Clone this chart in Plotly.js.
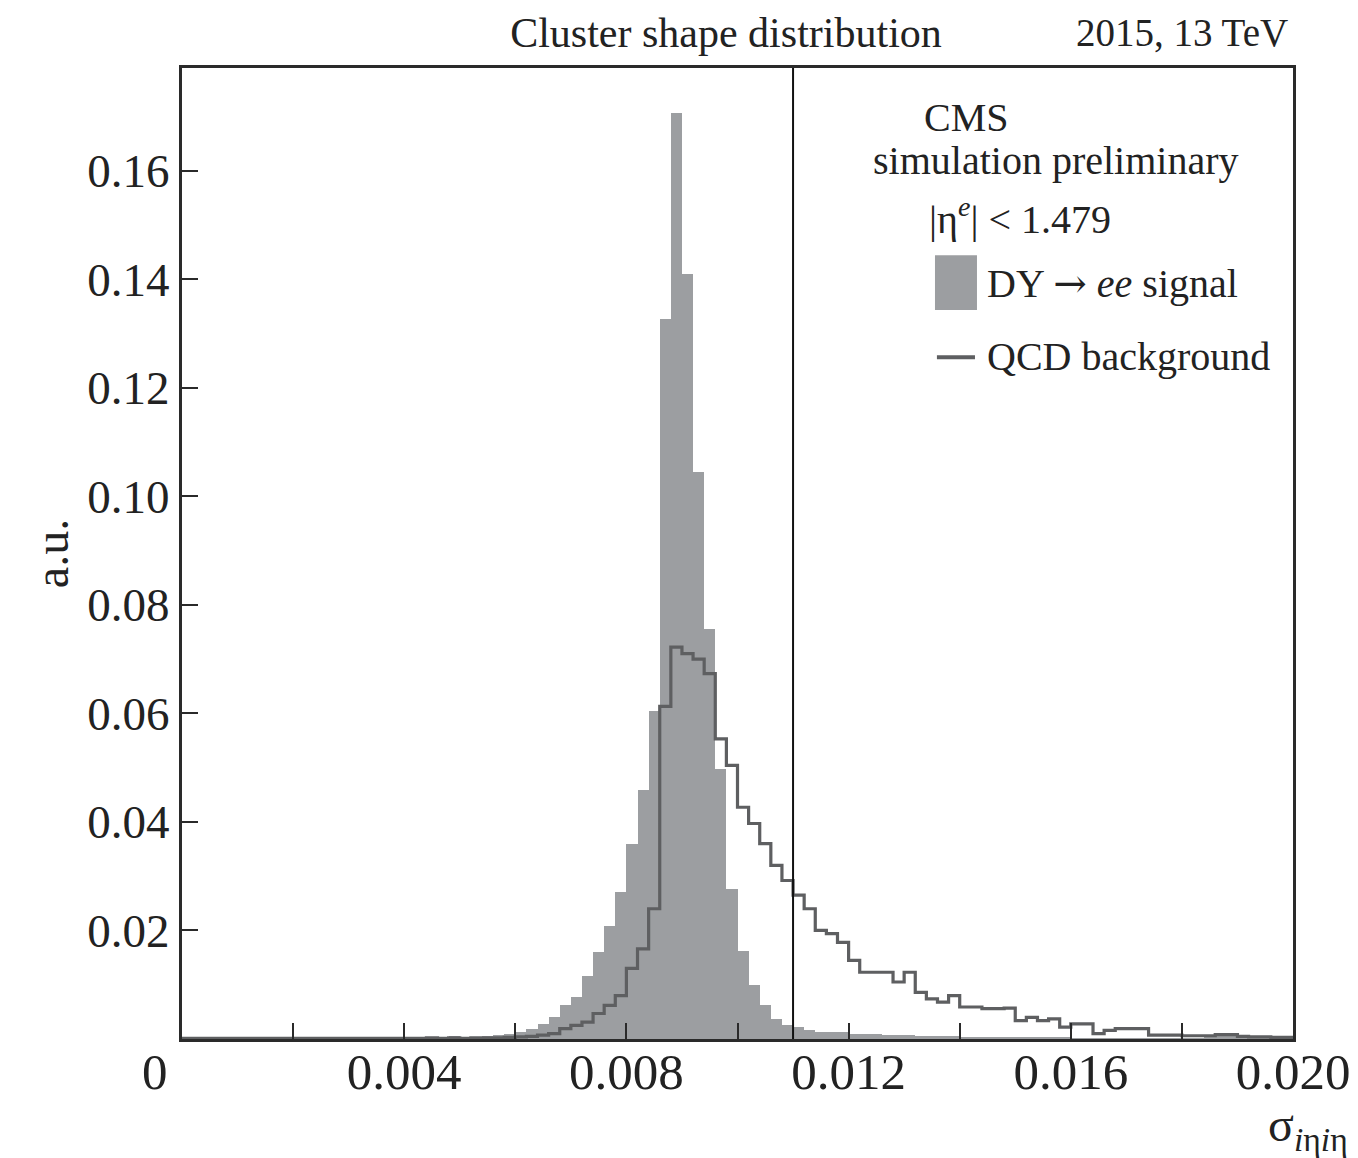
<!DOCTYPE html>
<html>
<head>
<meta charset="utf-8">
<script src="https://cdn.plot.ly/plotly-3.0.1.min.js"></script>
<style>
  html, body { margin: 0; padding: 0; background: #fff; }
  #chart { width: 1358px; height: 1158px; }
</style>
</head>
<body>
<div id="chart"></div>
<script>
// ---- Data ----
const binStart = 0.0;
const binWidth = 0.0002;

// DY -> ee signal, per bin (0 .. 0.020, 100 bins)
const signalValues = [
  0.0002,0.0001,0.0001,0.0001,0.0001,0.0001,0.0002,0.0001,0.0001,0.0001,
  0.0001,0.0001,0.0001,0.0001,0.0001,0.0001,0.0002,0.0001,0.0001,0.0001,
  0.0002,0.0002,0.0003,0.0003,0.0006,0.0003,0.0004,0.0005,0.0007,0.0009,
  0.0013,0.0019,0.0028,0.0040,0.0062,0.0078,0.0117,0.0160,0.0209,0.0271,
  0.0360,0.0459,0.0605,0.1327,0.1707,0.1410,0.1044,0.0756,0.0498,0.0277,
  0.0163,0.0099,0.0062,0.0037,0.0025,0.0022,0.0016,0.0013,0.0012,0.0012,
  0.0010,0.0010,0.0009,0.0008,0.0008,0.0007,0.0006,0.0006,0.0005,0.0005,
  0.0004,0.0004,0.0004,0.0004,0.0003,0.0003,0.0003,0.0003,0.0003,0.0003,
  0.0002,0.0002,0.0002,0.0002,0.0002,0.0002,0.0002,0.0002,0.0002,0.0002,
  0.0002,0.0002,0.0003,0.0005,0.0005,0.0003,0.0002,0.0002,0.0001,0.0001
];

// QCD background, per bin
const qcdValues = [
  0.0001,0.0001,0.0001,0.0001,0.0001,0.0001,0.0001,0.0001,0.0001,0.0001,
  0.0001,0.0001,0.0001,0.0001,0.0001,0.0001,0.0001,0.0001,0.0001,0.0001,
  0.0001,0.0001,0.0002,0.0001,0.0002,0.0001,0.0002,0.0002,0.0002,0.0003,
  0.0004,0.0005,0.0007,0.0010,0.0019,0.0025,0.0031,0.0047,0.0062,0.0080,
  0.0130,0.0166,0.0240,0.0613,0.0722,0.0710,0.0700,0.0673,0.0553,0.0504,
  0.0427,0.0397,0.0360,0.0320,0.0292,0.0265,0.0240,0.0200,0.0194,0.0178,
  0.0145,0.0123,0.0123,0.0123,0.0105,0.0123,0.0086,0.0074,0.0068,0.0080,
  0.0059,0.0059,0.0056,0.0056,0.0057,0.0034,0.0040,0.0034,0.0037,0.0022,
  0.0028,0.0028,0.0010,0.0016,0.0019,0.0019,0.0019,0.0007,0.0007,0.0007,
  0.0006,0.0006,0.0006,0.0008,0.0008,0.0005,0.0004,0.0004,0.0003,0.0003
];

const cutValue = 0.011;

const xTickVals = [0, 0.002, 0.004, 0.006, 0.008, 0.010, 0.012, 0.014, 0.016, 0.018, 0.020];
const xTickText = ['', '', '0.004', '', '0.008', '', '0.012', '', '0.016', '', '0.020'];
const yTickVals = [0.02, 0.04, 0.06, 0.08, 0.10, 0.12, 0.14, 0.16];
const yTickText = ['0.02', '0.04', '0.06', '0.08', '0.10', '0.12', '0.14', '0.16'];

const titleText = 'Cluster shape distribution';
const energyText = '2015, 13 TeV';
const signalName = 'DY <span style="font-family:DejaVu Serif">\u2192</span> <i>ee</i> signal';
const qcdName = 'QCD background';

// ---- Build traces ----
const centers = signalValues.map((_, i) => binStart + (i + 0.5) * binWidth);
const edges = qcdValues.map((_, i) => binStart + i * binWidth);
const qcdX = edges.concat([binStart + qcdValues.length * binWidth]);
const qcdY = qcdValues.concat([qcdValues[qcdValues.length - 1]]);

const FONT = 'Liberation Serif, Times New Roman, serif';
const TXT = '#222222';
const GREY = '#9c9ea1';
const LINEGREY = '#5e5f61';
const AX = '#2a2a2a';

const traces = [
  {
    type: 'bar', x: centers, y: signalValues, width: binWidth,
    marker: { color: GREY, line: { width: 0 } },
    name: 'DY \u2192 ee signal', hoverinfo: 'skip'
  },
  {
    type: 'scatter', mode: 'lines', x: qcdX, y: qcdY,
    line: { shape: 'hv', color: LINEGREY, width: 3.2 },
    name: qcdName, hoverinfo: 'skip'
  }
];

const layout = {
  width: 1358, height: 1158,
  margin: { l: 182, r: 65, t: 68, b: 119 },
  paper_bgcolor: '#ffffff', plot_bgcolor: '#ffffff',
  showlegend: false,
  bargap: 0,
  font: { family: FONT, color: TXT, size: 40 },
  title: {
    text: titleText, font: { family: FONT, size: 42, color: TXT },
    x: 726 / 1358, xanchor: 'center', xref: 'container',
    y: 1 - 32 / 1158, yanchor: 'middle', yref: 'container'
  },
  xaxis: {
    range: [0, 0.02], showgrid: false, zeroline: false,
    showline: true, mirror: true, linecolor: AX, linewidth: 3,
    ticks: 'inside', ticklen: 16, tickwidth: 2, tickcolor: AX,
    tickmode: 'array', tickvals: xTickVals, ticktext: xTickText,
    tickfont: { family: FONT, size: 51, color: TXT },
    ticklabelstandoff: -14
  },
  yaxis: {
    range: [0, 0.1789], showgrid: false, zeroline: false,
    showline: true, mirror: true, linecolor: AX, linewidth: 3,
    ticks: 'inside', ticklen: 16, tickwidth: 2, tickcolor: AX,
    tickmode: 'array', tickvals: yTickVals, ticktext: yTickText,
    tickfont: { family: FONT, size: 47, color: TXT },
    title: { text: 'a.u.', font: { family: FONT, size: 48, color: TXT }, standoff: 4 }
  },
  shapes: [
    { type: 'line', xref: 'x', yref: 'paper', x0: cutValue, x1: cutValue, y0: 0, y1: 1,
      line: { color: '#111111', width: 2 }, layer: 'above' },
    // legend symbols
    { type: 'rect', xref: 'x', yref: 'y', x0: 0.013555, x1: 0.014311, y0: 0.1343, y1: 0.1444,
      fillcolor: GREY, line: { width: 0 } },
    { type: 'line', xref: 'x', yref: 'y', x0: 0.01359, x1: 0.014275, y0: 0.12563, y1: 0.12563,
      line: { color: LINEGREY, width: 4 } }
  ],
  annotations: [
    { text: energyText, xref: 'paper', yref: 'paper', x: (1290 - 182) / 1111, xanchor: 'right',
      y: (1039 - 33) / 971, yanchor: 'middle', showarrow: false,
      font: { family: FONT, size: 39, color: TXT } },
    { text: '0', xref: 'x', yref: 'paper', x: 0, xshift: -27, xanchor: 'center',
      y: (1039 - 1072) / 971, yanchor: 'middle', showarrow: false,
      font: { family: FONT, size: 51, color: TXT } },
    { text: '\u03c3<sub><i>i</i>\u03b7<i>i</i>\u03b7</sub>', xref: 'paper', yref: 'paper',
      x: (1350 - 182) / 1111, xanchor: 'right', y: (1039 - 1128) / 971, yanchor: 'middle',
      showarrow: false, font: { family: FONT, size: 48, color: TXT } },
    { text: 'CMS', xref: 'x', yref: 'y', x: 0.01413, y: 0.1697, xanchor: 'center', yanchor: 'middle',
      showarrow: false, font: { family: FONT, size: 40, color: TXT } },
    { text: 'simulation preliminary', xref: 'x', yref: 'y', x: 0.01573, y: 0.1619,
      xanchor: 'center', yanchor: 'middle', showarrow: false,
      font: { family: FONT, size: 40, color: TXT } },
    { text: '|\u03b7<sup><i>e</i></sup>| < 1.479', xref: 'x', yref: 'y', x: 0.01509, y: 0.1515,
      xanchor: 'center', yanchor: 'middle', showarrow: false,
      font: { family: FONT, size: 40, color: TXT } },
    { text: signalName, xref: 'x', yref: 'y', x: 0.014455, y: 0.13926,
      xanchor: 'left', yanchor: 'middle', showarrow: false,
      font: { family: FONT, size: 40, color: TXT } },
    { text: qcdName, xref: 'x', yref: 'y', x: 0.014455, y: 0.1258,
      xanchor: 'left', yanchor: 'middle', showarrow: false,
      font: { family: FONT, size: 40, color: TXT } }
  ]
};

Plotly.newPlot('chart', traces, layout, { staticPlot: true, displayModeBar: false });
</script>
</body>
</html>
